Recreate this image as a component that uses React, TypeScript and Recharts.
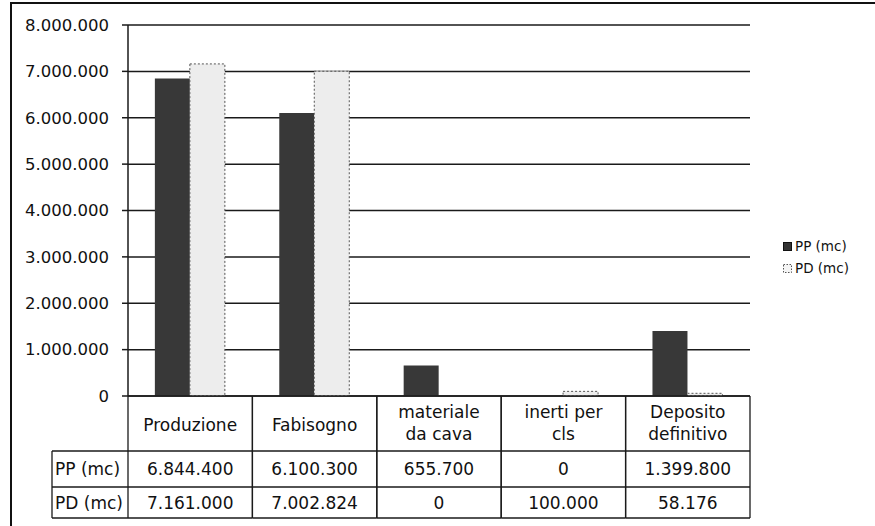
import React from 'react';
import { BarChart, Bar, XAxis, YAxis, CartesianGrid } from 'recharts';

const categories = ['Produzione', 'Fabisogno', 'materiale da cava', 'inerti per cls', 'Deposito definitivo'];
const headerLines = [['Produzione'], ['Fabisogno'], ['materiale', 'da cava'], ['inerti per', 'cls'], ['Deposito', 'definitivo']];
const ppValues = [6844400, 6100300, 655700, 0, 1399800];
const pdValues = [7161000, 7002824, 0, 100000, 58176];
const seriesNames = ['PP (mc)', 'PD (mc)'];
const yTicks = [0, 1000000, 2000000, 3000000, 4000000, 5000000, 6000000, 7000000, 8000000];

const data = categories.map((c, i) => ({ name: c, pp: ppValues[i], pd: pdValues[i] }));

const fmt = (v: number) => String(Math.round(v)).replace(/\B(?=(\d{3})+(?!\d))/g, '.');

const FONT = 'DejaVu Sans';
const LINE = '#1a1a1a';

const TableTick = (props: any) => {
  const { x, y, payload } = props;
  const i: number = payload.index ?? props.index ?? 0;
  const half = payload.offset ? payload.offset : 62.2;
  const left = x - half;
  const right = x + half;
  const r1 = y + 55;
  const r2 = y + 91;
  const r3 = y + 122;
  const labelLeft = left - 76;
  const lines = headerLines[i] || [payload.value];
  const textProps = { fontFamily: FONT, fontSize: 17, fill: '#111', textAnchor: 'middle' as const, dominantBaseline: 'central' as const };
  return (
    <g>
      <line x1={left} y1={y} x2={left} y2={r3} stroke={LINE} strokeWidth={1.3} />
      <line x1={right} y1={y} x2={right} y2={r3} stroke={LINE} strokeWidth={1.3} />
      <line x1={left} y1={r1} x2={right} y2={r1} stroke={LINE} strokeWidth={1.3} />
      <line x1={left} y1={r2} x2={right} y2={r2} stroke={LINE} strokeWidth={1.3} />
      <line x1={left} y1={r3} x2={right} y2={r3} stroke={LINE} strokeWidth={1.3} />
      {lines.length === 1 ? (
        <text x={x} y={y + 29} {...textProps}>{lines[0]}</text>
      ) : (
        lines.map((l, k) => (
          <text key={k} x={x} y={y + 16 + k * 22} {...textProps}>{l}</text>
        ))
      )}
      <text x={x} y={y + 73} {...textProps}>{fmt(ppValues[i])}</text>
      <text x={x} y={y + 107} {...textProps}>{fmt(pdValues[i])}</text>
      {i === 0 && (
        <g>
          <line x1={labelLeft} y1={r1} x2={left} y2={r1} stroke={LINE} strokeWidth={1.3} />
          <line x1={labelLeft} y1={r2} x2={left} y2={r2} stroke={LINE} strokeWidth={1.3} />
          <line x1={labelLeft} y1={r3} x2={left} y2={r3} stroke={LINE} strokeWidth={1.3} />
          <line x1={labelLeft} y1={r1} x2={labelLeft} y2={r3} stroke={LINE} strokeWidth={1.3} />
          <text x={labelLeft + 3} y={y + 73} fontFamily={FONT} fontSize={17} fill="#111" dominantBaseline="central">{seriesNames[0]}</text>
          <text x={labelLeft + 3} y={y + 107} fontFamily={FONT} fontSize={17} fill="#111" dominantBaseline="central">{seriesNames[1]}</text>
        </g>
      )}
    </g>
  );
};

const LegendBox = () => (
  <div style={{ position: 'absolute', left: 783, top: 235, width: 90, fontFamily: FONT, fontSize: 13.5, color: '#111' }}>
    {seriesNames.map((n, i) => (
      <div key={n} style={{ display: 'flex', alignItems: 'center', height: 22 }}>
        <svg width={9} height={9} style={{ display: 'block' }}>
          {i === 0 ? (
            <rect x={0.5} y={0.5} width={8} height={8} fill="#333" stroke="#111" />
          ) : (
            <rect x={0.5} y={0.5} width={8} height={8} fill="#f4f4f4" stroke="#555" strokeDasharray="1.5 1.5" />
          )}
        </svg>
        <span style={{ marginLeft: 3 }}>{n}</span>
      </div>
    ))}
  </div>
);

export default function App() {
  return (
    <div style={{ position: 'absolute', left: 0, top: 0, width: 875, height: 526, background: '#fff', overflow: 'hidden' }}>
      <div style={{ position: 'absolute', left: 10, top: 2, width: 880, height: 540, borderTop: '2px solid #111', borderLeft: '2px solid #111', boxSizing: 'border-box' }} />
      <BarChart
        width={875}
        height={526}
        data={data}
        margin={{ top: 25, right: 125, bottom: 0, left: 0 }}
        barCategoryGap="21.6%"
        barGap={0}
      >
        <CartesianGrid vertical={false} stroke={LINE} strokeWidth={1.5} />
        <XAxis
          dataKey="name"
          height={130}
          tickSize={0}
          tickMargin={0}
          tickLine={false}
          axisLine={{ stroke: LINE, strokeWidth: 1.5 }}
          interval={0}
          tick={<TableTick />}
        />
        <YAxis
          width={128}
          domain={[0, 8000000]}
          ticks={yTicks}
          tickFormatter={fmt}
          tickSize={6}
          tickMargin={13}
          tickLine={{ stroke: LINE, strokeWidth: 1.5 }}
          axisLine={{ stroke: LINE, strokeWidth: 1.5 }}
          tick={{ fontFamily: FONT, fontSize: 16.5, fill: '#111' }}
          interval={0}
        />
        <Bar dataKey="pp" name={seriesNames[0]} fill="#383838" isAnimationActive={false} />
        <Bar dataKey="pd" name={seriesNames[1]} fill="#ededed" stroke="#555" strokeWidth={1} strokeDasharray="2 2" isAnimationActive={false} />
      </BarChart>
      <LegendBox />
    </div>
  );
}
